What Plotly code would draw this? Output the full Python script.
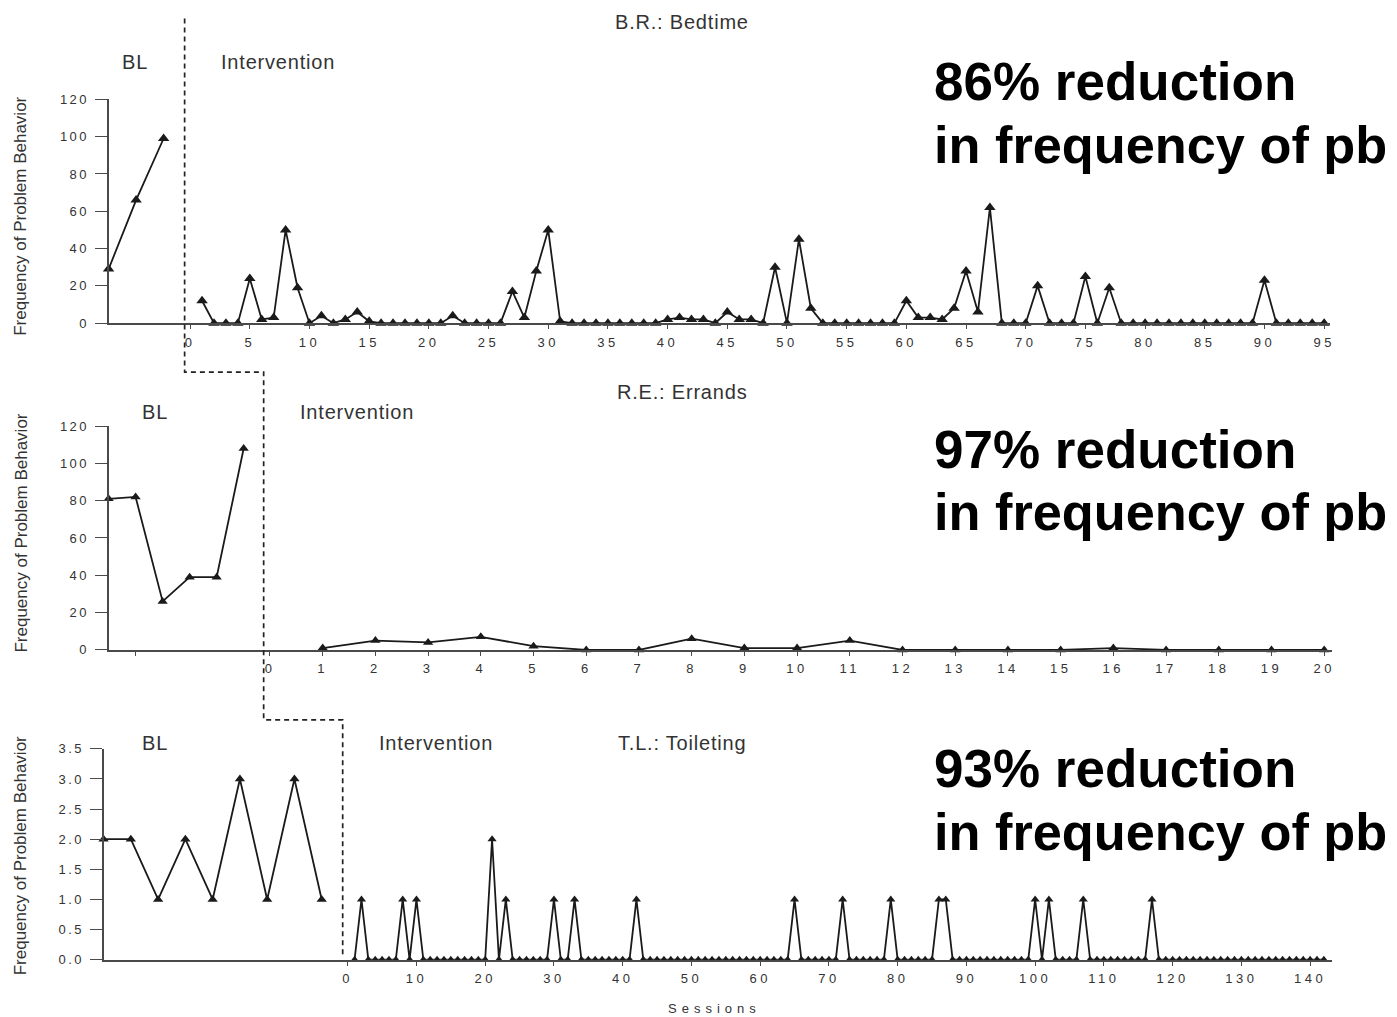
import plotly.graph_objects as go

# ---------------- data ----------------
bl1_values = [29, 66, 99]
int1_sessions = list(range(1, 96))
int1_values = [12, 0, 0, 0, 24, 2, 3, 50, 19, 0,
               4, 0, 2, 6, 1, 0, 0, 0, 0, 0,
               0, 4, 0, 0, 0, 0, 17, 3, 28, 50,
               1, 0, 0, 0, 0, 0, 0, 0, 0, 2,
               3, 2, 2, 0, 6, 2, 2, 0, 30, 0,
               45, 8, 0, 0, 0, 0, 0, 0, 0, 12,
               3, 3, 2, 8, 28, 6, 62, 0, 0, 0,
               20, 0, 0, 0, 25, 0, 19, 0, 0, 0,
               0, 0, 0, 0, 0, 0, 0, 0, 0, 23,
               0, 0, 0, 0, 0]

bl2_values = [81, 82, 26, 39, 39, 108]
int2_sessions = list(range(1, 21))
int2_values = [1, 5, 4, 7, 2, 0, 0, 6, 1, 1,
               5, 0, 0, 0, 0, 1, 0, 0, 0, 0]

bl3_values = [2, 2, 1, 2, 1, 3, 1, 3, 1]
int3_sessions = list(range(1, 143))
int3_values = [0, 1, 0, 0, 0, 0, 0, 1, 0, 1,
               0, 0, 0, 0, 0, 0, 0, 0, 0, 0,
               2, 0, 1, 0, 0, 0, 0, 0, 0, 1,
               0, 0, 1, 0, 0, 0, 0, 0, 0, 0,
               0, 1, 0, 0, 0, 0, 0, 0, 0, 0,
               0, 0, 0, 0, 0, 0, 0, 0, 0, 0,
               0, 0, 0, 0, 1, 0, 0, 0, 0, 0,
               0, 1, 0, 0, 0, 0, 0, 0, 1, 0,
               0, 0, 0, 0, 0, 1, 1, 0, 0, 0,
               0, 0, 0, 0, 0, 0, 0, 0, 0, 1,
               0, 1, 0, 0, 0, 0, 1, 0, 0, 0,
               0, 0, 0, 0, 0, 0, 1, 0, 0, 0,
               0, 0, 0, 0, 0, 0, 0, 0, 0, 0,
               0, 0, 0, 0, 0, 0, 0, 0, 0, 0,
               0, 0]

y12_ticks = [0, 20, 40, 60, 80, 100, 120]
y12_labels = ["0", "20", "40", "60", "80", "100", "120"]
y3_ticks = [0, 0.5, 1.0, 1.5, 2.0, 2.5, 3.0, 3.5]
y3_labels = ["0.0", "0.5", "1.0", "1.5", "2.0", "2.5", "3.0", "3.5"]
x1_ticks = list(range(0, 96, 5))
x2_ticks = list(range(0, 21))
x3_ticks = list(range(0, 141, 10))

panel_titles = ["B.R.: Bedtime", "R.E.: Errands", "T.L.: Toileting"]
reductions = ["86% reduction", "97% reduction", "93% reduction"]
reduction_line2 = "in frequency of pb"

# ---------------- layout helpers ----------------
W, H = 1397, 1017
SX, OX = 0.996, 6.45
SY, OY = 0.986, 14.6

def fx(p):
    return ((p - OX) / SX) / W

def fy(p):
    return 1 - ((p - OY) / SY) / H

def spaced(s, ls):
    return '<span style="letter-spacing:%spx">%s</span>' % (ls, s)

FONT = "Liberation Sans, Arial, sans-serif"
AX = "#4a4a4a"
TXT = "#333333"
LINE = "#1a1a1a"

fig = go.Figure()

def add_series(x, y, xa, ya, msize):
    fig.add_trace(go.Scatter(
        x=x, y=y, xaxis=xa, yaxis=ya, mode="lines+markers",
        line=dict(color=LINE, width=1.8),
        marker=dict(symbol="triangle-up", size=msize, color=LINE),
        cliponaxis=False, showlegend=False, hoverinfo="x+y"))

add_series(list(range(1, len(bl1_values) + 1)), bl1_values, "x", "y", 10)
add_series(int1_sessions, int1_values, "x2", "y", 10)
add_series(list(range(1, len(bl2_values) + 1)), bl2_values, "x3", "y2", 9)
add_series(int2_sessions, int2_values, "x4", "y2", 9)
add_series(list(range(1, len(bl3_values) + 1)), bl3_values, "x5", "y3", 9)
add_series(int3_sessions, int3_values, "x6", "y3", 8)

tickfont = dict(family=FONT, size=13, color=TXT)

def xaxis_bl(dom, rng, anchor, tickvals=None):
    d = dict(domain=[fx(dom[0]), fx(dom[1])], range=rng, anchor=anchor,
             showline=True, linecolor=AX, linewidth=1.8, showgrid=False,
             zeroline=False, fixedrange=True)
    if tickvals:
        d.update(tickmode="array", tickvals=tickvals, ticktext=[""] * len(tickvals),
                 ticks="outside", ticklen=4, tickcolor=AX, tickwidth=1.2)
    else:
        d.update(showticklabels=False, ticks="")
    return d

def xaxis_int(dom, rng, anchor, tickvals):
    return dict(domain=[fx(dom[0]), fx(dom[1])], range=rng, anchor=anchor,
                showline=True, linecolor=AX, linewidth=1.8, showgrid=False,
                zeroline=False, tickmode="array", tickvals=tickvals,
                ticktext=[spaced(str(v), 3.5) for v in tickvals],
                ticks="outside", ticklen=4, tickcolor=AX, tickwidth=1.2,
                tickfont=tickfont, ticklabelstandoff=2, fixedrange=True)

def yaxis(dom, rng, anchor, tickvals, labels):
    return dict(domain=[fy(dom[0]), fy(dom[1])], range=rng, anchor=anchor,
                showline=True, linecolor=AX, linewidth=1.8, showgrid=False,
                zeroline=False, tickmode="array", tickvals=tickvals,
                ticktext=[spaced(t, 2.5) for t in labels],
                ticks="outside", ticklen=12, tickcolor=AX, tickwidth=1.4,
                tickfont=tickfont, ticklabelstandoff=3, fixedrange=True)

fig.update_layout(
    width=W, height=H, margin=dict(l=0, r=0, t=0, b=0),
    paper_bgcolor="white", plot_bgcolor="white",
    xaxis=xaxis_bl((107, 183), [1, 3.764], "y"),
    xaxis2=xaxis_int((183, 1328), [-0.46, 95.5], "y", x1_ticks),
    xaxis3=xaxis_bl((107, 262), [1, 6.74], "y2", tickvals=[2]),
    xaxis4=xaxis_int((262, 1330), [-0.12, 20.15], "y2", x2_ticks),
    xaxis5=xaxis_bl((102, 341), [1, 9.77], "y3"),
    xaxis6=xaxis_int((341, 1330), [-0.73, 143.2], "y3", x3_ticks),
    yaxis=yaxis((323, 99), [0, 120], "x", y12_ticks, y12_labels),
    yaxis2=yaxis((650, 426), [0, 120], "x3", y12_ticks, y12_labels),
    yaxis3=yaxis((960, 749), [0, 3.5], "x5", y3_ticks, y3_labels),
)

# phase-change dashed line
path = "M %f %f L %f %f L %f %f L %f %f L %f %f L %f %f" % (
    fx(183), fy(18), fx(183), fy(372), fx(262), fy(372),
    fx(262), fy(720), fx(341), fy(720), fx(341), fy(956))
fig.add_shape(type="path", path=path, xref="paper", yref="paper",
              line=dict(color="#222222", width=1.7, dash="5px,4px"))

def ann(text, x, y, size, color=TXT, xanchor="center", angle=0, bold=False):
    fig.add_annotation(text=("<b>%s</b>" % text) if bold else text,
                       x=fx(x), y=fy(y), xref="paper", yref="paper",
                       xanchor=xanchor, yanchor="middle", showarrow=False,
                       textangle=angle,
                       font=dict(family=FONT, size=size, color=color))

# panel labels
ann(spaced(panel_titles[0], 0.8), 680, 22, 20)
ann(spaced(panel_titles[1], 0.8), 680, 392, 20)
ann(spaced(panel_titles[2], 0.8), 680, 743, 20)
for (bx, ix, yy) in [(133, 276, 62), (153, 355, 412), (153, 434, 743)]:
    ann(spaced("BL", 0.8), bx, yy, 20)
    ann(spaced("Intervention", 0.8), ix, yy, 20)

# y-axis titles
for yc in (216, 533, 856):
    ann("Frequency of Problem Behavior", 19, yc, 17, angle=-90)

# x-axis title
ann(spaced("Sessions", 5), 713, 1009, 13)

# big annotations
for txt, y1, y2 in zip(reductions, (81, 449, 769), (145, 512, 832)):
    ann(txt, 930, y1, 53, color="black", xanchor="left", bold=True)
    ann(reduction_line2, 930, y2, 52.3, color="black", xanchor="left", bold=True)

fig.write_html("out.html")
